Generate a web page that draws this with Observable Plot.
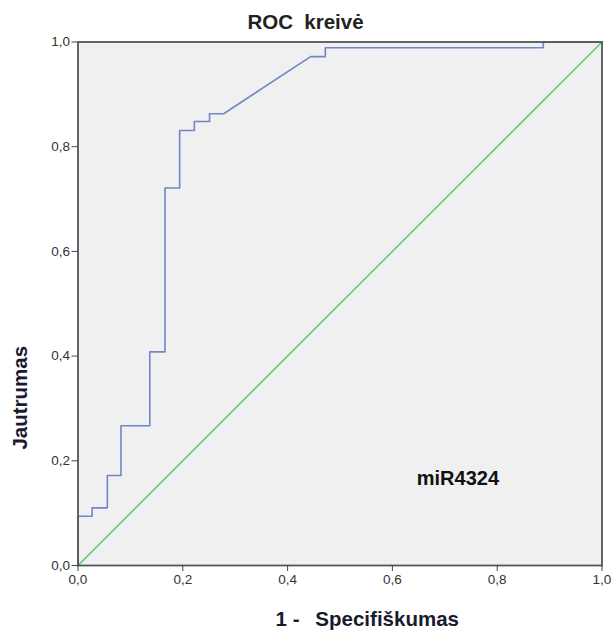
<!DOCTYPE html>
<html>
<head>
<meta charset="utf-8">
<script src="https://cdn.jsdelivr.net/npm/d3@7"></script>
<script src="https://cdn.jsdelivr.net/npm/@observablehq/plot@0.6"></script>
<style>
  html, body { margin: 0; padding: 0; background: #fff; }
  svg { font-family: "Liberation Sans", Arial, sans-serif; }
</style>
</head>
<body>
<div id="chart"></div>
<script>
const titleText = "ROC  kreivė";
const xLabelPrefix = "1 -";
const xLabelMain = "Specifiškumas";
const yLabel = "Jautrumas";
const seriesName = "miR4324";

// ROC curve points (1 - specificity, sensitivity)
const fpr = [0, 0, 0.027, 0.027, 0.056, 0.056, 0.082, 0.082, 0.137, 0.137, 0.166, 0.166, 0.194, 0.194, 0.222, 0.222, 0.251, 0.251, 0.278, 0.444, 0.472, 0.472, 0.888, 0.888, 1];
const tpr = [0, 0.094, 0.094, 0.110, 0.110, 0.172, 0.172, 0.267, 0.267, 0.408, 0.408, 0.721, 0.721, 0.831, 0.831, 0.848, 0.848, 0.863, 0.863, 0.972, 0.972, 0.989, 0.989, 1, 1];

// reference line
const refX = [0, 1];
const refY = [0, 1];

const ticks = [0, 0.2, 0.4, 0.6, 0.8, 1.0];
const fmt = d => d.toFixed(1).replace(".", ",");

const roc = fpr.map((x, i) => ({x, y: tpr[i]}));
const ref = refX.map((x, i) => ({x, y: refY[i]}));

const chart = Plot.plot({
  width: 614,
  height: 631,
  marginLeft: 77.5,
  marginRight: 12.5,
  marginTop: 41.5,
  marginBottom: 66,
  style: {fontFamily: "'Liberation Sans', Arial, sans-serif", background: "#fff"},
  x: {domain: [0, 1]},
  y: {domain: [0, 1]},
  marks: [
    Plot.frame({fill: "#f0f0f0", stroke: null}),
    Plot.line(ref, {x: "x", y: "y", stroke: "#5ecb6c", strokeWidth: 1.5}),
    Plot.line(roc, {x: "x", y: "y", stroke: "#7186c9", strokeWidth: 1.6}),
    Plot.frame({stroke: "#555", strokeWidth: 1.8}),
    Plot.axisX({ticks, tickFormat: fmt, tickSize: 6, tickPadding: 3, fontSize: 13.5, color: "#333", stroke: "#444", label: null}),
    Plot.axisY({ticks, tickFormat: fmt, tickSize: 6, tickPadding: 2, fontSize: 13.5, color: "#333", stroke: "#444", label: null}),
    Plot.text([seriesName], {x: 0.725, y: 0.166, text: d => d, fontSize: 20, fontWeight: "bold", fill: "#111"}),
    Plot.text([titleText], {frameAnchor: "top", lineAnchor: "middle", dy: -19.5, dx: -34.5, text: d => d, fontSize: 20.5, fontWeight: "bold", fill: "#222"}),
    Plot.text([xLabelPrefix], {x: 0.377, frameAnchor: "bottom", lineAnchor: "middle", textAnchor: "start", dy: 54, text: d => d, fontSize: 20.5, fontWeight: "bold", fill: "#1a1a2e"}),
    Plot.text([xLabelMain], {x: 0.453, frameAnchor: "bottom", lineAnchor: "middle", textAnchor: "start", dy: 54, text: d => d, fontSize: 20.5, fontWeight: "bold", fill: "#1a1a2e"}),
    Plot.text([yLabel], {frameAnchor: "left", textAnchor: "middle", lineAnchor: "middle", dx: -57.5, dy: 94, rotate: -90, text: d => d, fontSize: 20.5, fontWeight: "bold", fill: "#1a1a2e"})
  ]
});
document.getElementById("chart").appendChild(chart);
</script>
</body>
</html>
